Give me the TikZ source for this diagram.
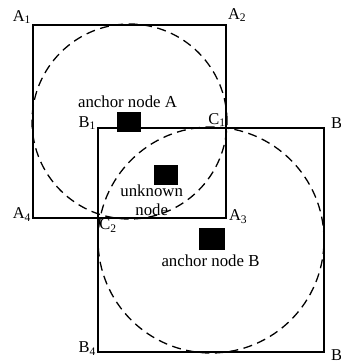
\documentclass[tikz,border=0pt]{standalone}
\usepackage{fontspec}
\setmainfont{Liberation Serif}
\begin{document}
\begin{tikzpicture}[x=1pt,y=-1pt,
  sq/.style={draw,line width=1.6pt,rectangle,inner sep=0pt},
  rng/.style={draw,dashed,dash pattern=on 9pt off 5.5pt,line width=1.3pt,circle,inner sep=0pt},
  blk/.style={fill=black,draw=none,rectangle,inner sep=0pt},
  lab/.style={inner sep=0pt,font=\fontsize{16.5}{18}\selectfont},
  txt/.style={inner sep=0pt,font=\fontsize{16.8}{18}\selectfont,anchor=base}]
\useasboundingbox (0,0) rectangle (340,363);
% squares
\node[sq,minimum width=226pt,minimum height=224pt] (sqB) at (211,240) {};
\node[sq,minimum width=193pt,minimum height=193pt] (sqA) at (129.5,121.5) {};
% circles
\node[rng,minimum size=195pt] (cirA) at (129.5,121.5) {};
\node[rng,minimum size=226pt] (cirB) at (211,240) {};
% black nodes
\node[blk,minimum width=24pt,minimum height=20pt] (nA) at (129,122) {};
\node[blk,minimum width=24pt,minimum height=20pt] (nU) at (166,175) {};
\node[blk,minimum width=26pt,minimum height=22pt] (nB) at (212,239) {};
% texts
\node[txt] (tA) at (127.5,108) {anchor node A};
\node[txt] (tU1) at (151.7,196) {unknown};
\node[txt] (tU2) at (151.7,215) {node};
\node[txt] (tB) at (210.5,266) {anchor node B};
% corner labels
\node[lab,anchor=base east] (lA1) at ([xshift=-1pt,yshift=3pt]sqA.north west) {A\textsubscript{1}};
\node[lab,anchor=base west] (lA2) at ([xshift=1pt,yshift=5pt]sqA.north east) {A\textsubscript{2}};
\node[lab,anchor=base west] (lA3) at ([xshift=2pt,yshift=-2pt]sqA.south east) {A\textsubscript{3}};
\node[lab,anchor=base east] (lA4) at ([xshift=-1pt,yshift=0pt]sqA.south west) {A\textsubscript{4}};
\node[lab,anchor=base east] (lB1) at ([xshift=-1pt,yshift=0pt]sqB.north west) {B\textsubscript{1}};
\node[lab,anchor=base west] (lB2) at ([xshift=6pt,yshift=-1pt]sqB.north east) {B\textsubscript{2}};
\node[lab,anchor=base west] (lB3) at ([xshift=6pt,yshift=-8pt]sqB.south east) {B\textsubscript{3}};
\node[lab,anchor=base east] (lB4) at ([xshift=-1pt,yshift=0pt]sqB.south west) {B\textsubscript{4}};
\node[lab,anchor=base east] (lC1) at ([xshift=-1pt,yshift=3pt]sqA.east |- sqB.north) {C\textsubscript{1}};
\node[lab,anchor=base west] (lC2) at ([xshift=2pt,yshift=-11pt]sqB.west |- sqA.south) {C\textsubscript{2}};
\end{tikzpicture}
\end{document}
